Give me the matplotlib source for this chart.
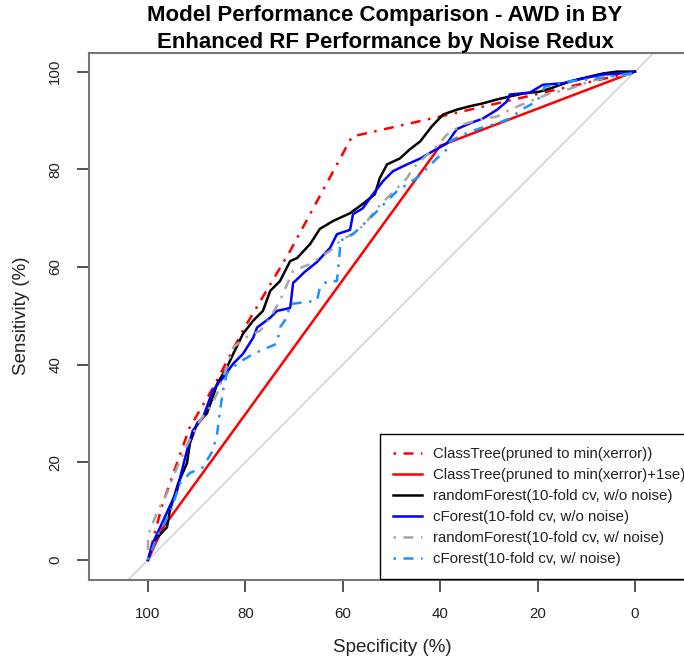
import numpy as np
import matplotlib
matplotlib.use("Agg")
import matplotlib.pyplot as plt

plt.rcParams['font.family'] = ['Liberation Sans', 'DejaVu Sans']

# ROC curves: specificity (%) on x, sensitivity (%) on y
spec_ct_min = [100, 98.5, 97, 91.5, 86.5, 80.5, 70.8, 58.1, 40, 0]
sens_ct_min = [0, 6, 11.5, 27, 35.5, 47, 63.3, 86.7, 90.8, 100]

spec_ct_1se = [100, 97, 40, 0]
sens_ct_1se = [0, 6.5, 84.8, 100]

spec_rf = [100, 99.6, 98.6, 96.1, 95.5, 93.8, 92.0, 91.4, 89.9, 87.9, 86.7, 85.8,
           83.8, 82.5, 80.5, 78.4, 76.4, 74.9, 72.9, 70.8, 69.4, 66.7, 64.7, 62.0,
           58.5, 55.9, 53.4, 52.4, 50.9, 48.3, 46.2, 44.1, 41.7, 39.4, 36.6, 33.9,
           31.2, 28.3, 25.7, 23.0, 19.5, 17.5, 13.3, 9.2, 6.6, 3.7, 0]
sens_rf = [0, 1.4, 4.1, 6.7, 10.2, 15.7, 19.8, 23.9, 28.0, 30.0, 33.3, 36.1,
           39.4, 42.2, 46.3, 49.0, 51.0, 55.1, 57.1, 61.2, 61.8, 64.7, 67.8, 69.4,
           71.0, 72.9, 74.9, 78.2, 81.0, 82.2, 84.1, 85.7, 88.8, 91.2, 92.2, 92.9,
           93.5, 94.3, 94.9, 95.5, 95.9, 96.5, 98.0, 99.0, 99.6, 100, 100]

spec_cf = [100, 99, 97.5, 95.9, 94.0, 93.4, 92.0, 90.8, 88.7, 86.7, 84.6, 82.5,
           80.5, 78.4, 77.6, 74.9, 73.5, 70.8, 70.2, 67.8, 65.3, 62.6, 61.2, 58.5,
           57.9, 55.9, 53.8, 51.7, 49.7, 46.8, 44.1, 41.5, 38.6, 36.6, 33.9, 31.2,
           28.3, 26.3, 25.7, 21.6, 18.9, 14.8, 10.7, 6.6, 2.5, 0]
sens_cf = [0, 3.5, 6.7, 10.2, 14.3, 16.9, 22.4, 26.5, 29.2, 34.7, 37.3, 40.2,
           42.2, 45.5, 47.6, 49.6, 51.0, 51.6, 56.7, 59.0, 61.0, 63.9, 66.7, 67.6,
           70.8, 72.0, 74.9, 77.6, 79.6, 81.0, 82.2, 83.7, 85.3, 88.2, 89.4, 90.4,
           92.2, 93.9, 95.3, 95.7, 97.3, 97.6, 98.6, 99.4, 99.6, 100]

spec_rf_noise = [100, 100, 99.6, 98.2, 96.1, 94.9, 93.4, 92.0, 89.3, 87.3, 85.8,
                 84.6, 82.5, 80.1, 77.0, 74.9, 72.9, 70.2, 66.7, 62.6, 60.6, 57.1,
                 55.0, 53.0, 50.9, 48.9, 46.8, 45.6, 43.5, 40.7, 38.6, 35.3, 31.8,
                 28.3, 25.7, 21.6, 17.5, 13.3, 9.2, 5.1, 1.0, 0]
sens_rf_noise = [0, 4.1, 6.1, 9.6, 13.7, 16.9, 20.4, 23.5, 28.6, 31.2, 34.1,
                 37.3, 43.5, 45.5, 46.9, 49.6, 53.1, 59.2, 60.6, 63.3, 65.3, 67.3,
                 69.4, 72.0, 74.1, 76.1, 78.2, 80.2, 82.2, 84.7, 87.1, 89.2, 90.2,
                 90.8, 92.2, 93.9, 95.5, 96.5, 98.0, 99.0, 99.4, 100]

spec_cf_noise = [100, 98.2, 95.5, 93.4, 91.4, 88.7, 86.7, 85.8, 85.2, 84.6, 83.8,
                 81.7, 78.4, 73.5, 72.9, 71.5, 70.8, 65.3, 64.7, 63.2, 61.2, 60.6,
                 60.6, 57.9, 55.0, 53.0, 50.9, 48.9, 46.8, 44.8, 42.7, 40.7, 38.6,
                 38.0, 35.3, 31.8, 28.3, 25.7, 23.0, 20.1, 18.5, 13.3, 6.2, 1.0, 0]
sens_cf_noise = [0, 4.7, 9.6, 15.7, 17.8, 19.0, 22.4, 25.9, 30.6, 34.7, 38.2,
                 40.2, 42.2, 44.3, 47.6, 49.6, 52.4, 53.1, 55.7, 57.1, 57.1, 63.3,
                 65.3, 66.7, 69.4, 71.4, 73.5, 75.5, 76.9, 78.2, 80.2, 82.2, 84.1,
                 85.7, 87.1, 88.4, 89.4, 90.4, 92.4, 93.9, 96.9, 98.0, 98.8, 99.6, 100]

labels = ["ClassTree(pruned to min(xerror))",
          "ClassTree(pruned to min(xerror)+1se)",
          "randomForest(10-fold cv, w/o noise)",
          "cForest(10-fold cv, w/o noise)",
          "randomForest(10-fold cv, w/ noise)",
          "cForest(10-fold cv, w/ noise)"]

dotdash = (0, (1, 3, 4, 3))

fig = plt.figure(figsize=(6.84, 6.62), dpi=100)
ax = fig.add_axes([0.1306, 0.1239, 0.8724, 0.7960])

# chance line
ax.axline((100, 0), (0, 100), color="#d0d0d0", lw=1.1, zorder=1)

lw = 1.8
ax.plot(spec_ct_min, sens_ct_min, color="red", lw=lw, ls=dotdash, label=labels[0])
ax.plot(spec_ct_1se, sens_ct_1se, color="red", lw=lw, label=labels[1])
ax.plot(spec_rf, sens_rf, color="black", lw=lw, label=labels[2])
ax.plot(spec_cf, sens_cf, color="blue", lw=lw, label=labels[3])
ax.plot(spec_rf_noise, sens_rf_noise, color="#a6a6a6", lw=lw, ls=dotdash, label=labels[4])
ax.plot(spec_cf_noise, sens_cf_noise, color="#1e90ff", lw=lw, ls=dotdash, label=labels[5])

ax.set_xlim(112.05, -10.5)
ax.set_ylim(-4.1, 103.8)
ax.set_xticks([100, 80, 60, 40, 20, 0])
ax.set_yticks([0, 20, 40, 60, 80, 100])
for s in ax.spines.values():
    s.set_color("#777777")
    s.set_linewidth(1.5)
ax.tick_params(axis="both", length=8.5, width=1.3, color="#444444",
               labelsize=10.8, labelcolor="#222222")
ax.tick_params(axis="x", pad=11)
ax.tick_params(axis="y", pad=11)
for t in ax.get_yticklabels():
    t.set_rotation(90)
    t.set_va("center")

fig.text(392 / 684, 1 - 648 / 662, "Specificity (%)", ha="center", va="center",
         fontsize=13.5, color="#222222")
fig.text(22 / 684, 1 - 316 / 662, "Sensitivity (%)", ha="center", va="center",
         rotation=90, fontsize=13.5, color="#222222")

fig.text(385 / 684, 1 - 29 / 662,
         "Model Performance Comparison - AWD in BY\nEnhanced RF Performance by Noise Redux",
         ha="center", va="center", fontsize=16, fontweight="bold", linespacing=1.4)

leg = fig.legend(loc="lower left", bbox_to_anchor=(380 / 684, 1 - 579 / 662),
                 bbox_transform=fig.transFigure, borderaxespad=0, fontsize=10.8,
                 handlelength=1.95, handletextpad=0.75, labelspacing=0.47,
                 borderpad=0.85, fancybox=False, framealpha=1, edgecolor="black")
leg.get_frame().set_linewidth(1.0)
for t in leg.get_texts():
    t.set_color("#222222")

fig.savefig("out.png", dpi=100)
